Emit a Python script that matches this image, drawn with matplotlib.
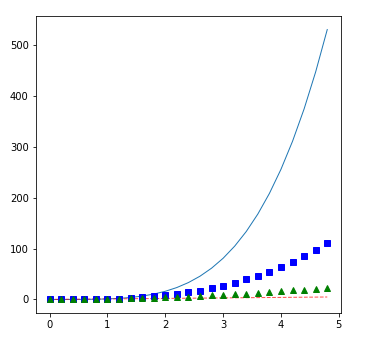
import matplotlib
matplotlib.use('Agg')
import matplotlib.pyplot as plt

# values
t = [0.0, 0.2, 0.4, 0.6, 0.8, 1.0, 1.2, 1.4, 1.6, 1.8, 2.0, 2.2, 2.4,
     2.6, 2.8, 3.0, 3.2, 3.4, 3.6, 3.8, 4.0, 4.2, 4.4, 4.6, 4.8]
linear = t
squares = [0, 0.04, 0.16, 0.36, 0.64, 1, 1.44, 1.96, 2.56, 3.24, 4, 4.84, 5.76,
           6.76, 7.84, 9, 10.24, 11.56, 12.96, 14.44, 16, 17.64, 19.36, 21.16, 23.04]
cubes = [0, 0.008, 0.064, 0.216, 0.512, 1, 1.728, 2.744, 4.096, 5.832, 8, 10.648,
         13.824, 17.576, 21.952, 27, 32.768, 39.304, 46.656, 54.872, 64, 74.088,
         85.184, 97.336, 110.592]
quartic = [0, 0.0016, 0.0256, 0.1296, 0.4096, 1, 2.0736, 3.8416, 6.5536, 10.4976,
           16, 23.4256, 33.1776, 45.6976, 61.4656, 81, 104.8576, 133.6336,
           167.9616, 208.5136, 256, 311.1696, 374.8096, 447.7456, 530.8416]

fig = plt.figure(figsize=(368 / 72, 342 / 72), dpi=72)
ax = fig.add_axes([0.097, 0.085, 0.83, 0.868])

ax.plot(t, quartic, color='tab:blue', linewidth=1)
ax.plot(t, linear, 'r--', linewidth=1, alpha=0.7)
ax.plot(t, cubes, 'bs', markersize=6)
ax.plot(t, squares, 'g^', markersize=6)

ax.set_xticks([0, 1, 2, 3, 4, 5])
ax.set_yticks([0, 100, 200, 300, 400, 500])

fig.savefig('out.png', dpi=72)
